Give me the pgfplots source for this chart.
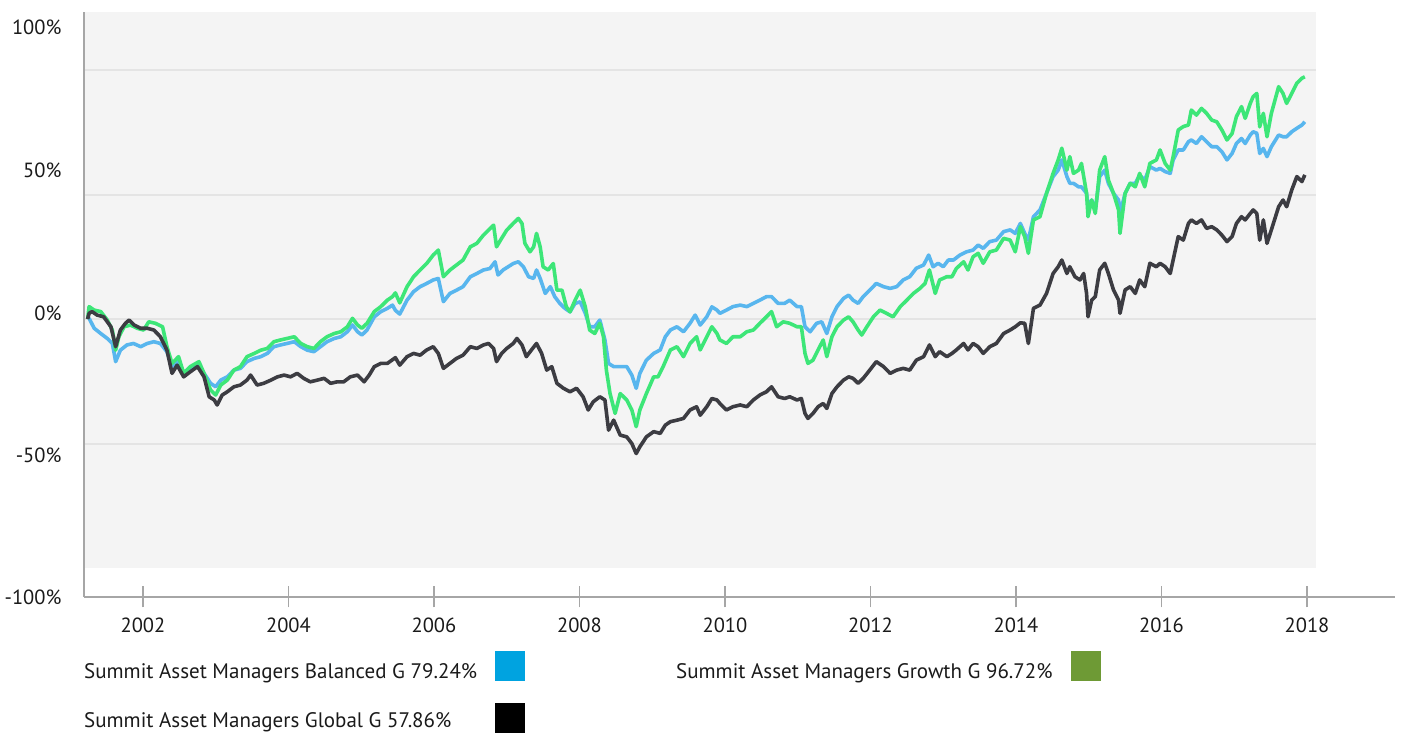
\documentclass[border=0pt]{standalone}
\usepackage{fontspec}
\setmainfont{PT Sans}
\usepackage{pgfplots}
\usepackage{pgfplotstable}
\pgfplotsset{compat=1.18}
\definecolor{bggray}{HTML}{F4F4F4}
\definecolor{gridgray}{HTML}{E4E4E4}
\definecolor{axgray}{HTML}{A6A6A6}
\definecolor{txt}{HTML}{1A1A1A}
\definecolor{balline}{HTML}{58B6EE}
\definecolor{groline}{HTML}{3DE678}
\definecolor{gloline}{HTML}{3C3C42}
\definecolor{legblue}{HTML}{00A3E0}
\definecolor{leggreen}{HTML}{6E9A35}

\pgfplotstableread{
t v
2001.24 0.0
2001.26 0.3
2001.33 -3.7
2001.42 -5.8
2001.51 -7.8
2001.58 -9.8
2001.625 -17.1
2001.69 -12.5
2001.78 -10.4
2001.87 -9.8
2001.97 -11.1
2002.06 -9.8
2002.15 -9.1
2002.24 -9.8
2002.33 -13.1
2002.40 -19.1
2002.49 -16.5
2002.56 -21.8
2002.65 -19.8
2002.77 -18.5
2002.84 -21.8
2002.93 -25.8
2003.00 -27.2
2003.07 -24.5
2003.16 -23.2
2003.25 -20.5
2003.34 -19.8
2003.43 -17.1
2003.53 -15.8
2003.62 -15.1
2003.71 -13.8
2003.80 -11.1
2003.89 -10.4
2003.98 -9.8
2004.08 -9.1
2004.17 -11.1
2004.26 -12.5
2004.35 -13.1
2004.44 -11.1
2004.53 -9.1
2004.63 -7.8
2004.72 -7.1
2004.81 -5.1
2004.88 -2.4
2004.95 -5.1
2005.01 -6.4
2005.08 -4.4
2005.18 0.9
2005.27 3.0
2005.36 4.3
2005.43 5.6
2005.47 3.5
2005.53 2.0
2005.63 7.6
2005.72 11.0
2005.81 13.0
2005.90 14.3
2005.99 15.7
2006.06 16.3
2006.13 7.0
2006.22 10.3
2006.31 11.6
2006.40 13.0
2006.50 17.0
2006.59 18.3
2006.68 19.7
2006.77 20.3
2006.84 23.0
2006.88 17.7
2006.95 19.7
2007.02 21.0
2007.09 22.3
2007.16 23.0
2007.23 21.0
2007.30 17.0
2007.37 16.3
2007.41 19.7
2007.46 16.3
2007.53 10.3
2007.60 13.0
2007.66 9.0
2007.73 6.3
2007.80 4.3
2007.87 2.9
2007.94 6.3
2008.01 6.9
2008.08 2.3
2008.14 -3.1
2008.21 -3.1
2008.28 -0.4
2008.35 -8.4
2008.40 -17.8
2008.47 -19.1
2008.56 -19.1
2008.65 -19.1
2008.72 -22.5
2008.78 -27.8
2008.83 -21.8
2008.92 -16.5
2009.02 -13.8
2009.11 -12.4
2009.18 -7.1
2009.25 -4.4
2009.34 -3.1
2009.43 -5.1
2009.52 -1.7
2009.59 1.6
2009.66 -2.4
2009.75 0.9
2009.82 4.9
2009.89 3.6
2009.93 2.3
2010.02 3.6
2010.11 5.0
2010.21 5.6
2010.30 5.0
2010.39 6.3
2010.48 7.6
2010.57 9.0
2010.64 9.0
2010.73 6.3
2010.82 6.3
2010.89 7.6
2010.99 5.0
2011.05 5.0
2011.10 -3.1
2011.17 -5.1
2011.26 -1.7
2011.33 -1.1
2011.40 -5.8
2011.47 0.9
2011.54 5.0
2011.63 8.3
2011.70 9.6
2011.76 7.6
2011.83 6.3
2011.90 9.0
2011.99 11.6
2012.08 14.3
2012.18 13.0
2012.27 12.3
2012.36 13.0
2012.45 15.7
2012.54 17.0
2012.63 20.4
2012.73 21.7
2012.80 25.7
2012.86 21.0
2012.93 22.4
2013.00 21.0
2013.07 23.7
2013.14 23.7
2013.23 25.7
2013.32 27.0
2013.41 27.7
2013.48 29.7
2013.55 28.4
2013.64 31.1
2013.73 31.7
2013.83 35.1
2013.92 35.8
2013.99 34.4
2014.06 38.4
2014.12 34.4
2014.17 31.7
2014.24 41.1
2014.33 43.8
2014.42 50.5
2014.51 57.2
2014.58 59.8
2014.63 63.9
2014.70 57.2
2014.74 54.5
2014.79 54.5
2014.86 53.1
2014.90 53.1
2014.97 50.5
2014.99 45.1
2015.04 47.8
2015.09 43.8
2015.15 57.2
2015.22 59.8
2015.27 54.5
2015.34 50.5
2015.41 47.8
2015.43 42.4
2015.50 50.5
2015.57 54.5
2015.64 54.5
2015.70 57.8
2015.77 55.8
2015.84 61.2
2015.93 59.8
2015.98 60.5
2016.05 59.2
2016.12 58.5
2016.16 63.9
2016.23 67.9
2016.30 67.9
2016.37 71.2
2016.41 71.9
2016.48 70.5
2016.55 73.2
2016.62 71.2
2016.69 69.2
2016.76 69.2
2016.83 67.2
2016.90 63.9
2016.97 66.5
2017.03 70.5
2017.10 72.5
2017.15 70.5
2017.22 73.9
2017.26 75.2
2017.31 74.6
2017.35 66.5
2017.40 68.5
2017.45 65.2
2017.51 69.2
2017.61 73.9
2017.67 73.2
2017.72 73.2
2017.79 75.2
2017.86 76.6
2017.93 77.9
2017.97 79.2
}\balanced

\pgfplotstableread{
t v
2001.24 0.0
2001.26 5.0
2001.33 3.6
2001.42 3.0
2001.51 -0.4
2001.58 -4.4
2001.625 -12.5
2001.67 -7.1
2001.74 -3.1
2001.83 -2.4
2001.92 -3.7
2002.01 -4.4
2002.08 -1.1
2002.17 -1.7
2002.27 -3.1
2002.33 -11.1
2002.40 -17.8
2002.49 -15.1
2002.56 -21.8
2002.65 -19.1
2002.77 -17.1
2002.84 -21.8
2002.93 -28.5
2003.00 -30.5
2003.07 -26.5
2003.16 -24.5
2003.25 -20.5
2003.34 -19.1
2003.43 -15.1
2003.53 -13.8
2003.62 -12.5
2003.71 -11.8
2003.80 -9.1
2003.89 -8.4
2003.98 -7.8
2004.08 -7.1
2004.17 -9.8
2004.26 -11.1
2004.35 -11.8
2004.44 -9.1
2004.53 -7.1
2004.63 -5.8
2004.72 -5.1
2004.81 -3.1
2004.88 0.3
2004.95 -2.4
2005.01 -3.7
2005.08 -1.7
2005.18 3.0
2005.27 5.0
2005.36 7.6
2005.43 9.0
2005.47 10.5
2005.53 6.5
2005.63 13.0
2005.72 17.0
2005.81 19.7
2005.90 22.3
2005.99 25.7
2006.06 27.7
2006.13 17.0
2006.22 19.7
2006.31 21.7
2006.40 23.7
2006.50 29.0
2006.59 30.4
2006.68 33.7
2006.75 35.7
2006.82 37.7
2006.86 29.0
2006.93 32.4
2007.00 35.7
2007.09 38.4
2007.16 40.4
2007.21 38.4
2007.25 30.4
2007.32 27.0
2007.37 29.0
2007.41 34.4
2007.46 29.0
2007.50 21.0
2007.57 19.7
2007.64 22.3
2007.69 11.6
2007.76 11.6
2007.82 4.9
2007.87 2.9
2007.94 7.6
2008.01 11.6
2008.08 4.9
2008.14 -4.4
2008.21 -5.8
2008.28 -1.7
2008.33 -7.1
2008.37 -20.5
2008.42 -29.9
2008.49 -37.9
2008.56 -29.9
2008.65 -32.5
2008.72 -36.5
2008.78 -43.2
2008.83 -36.5
2008.92 -29.9
2009.02 -23.2
2009.08 -23.2
2009.15 -19.1
2009.25 -12.4
2009.34 -11.1
2009.43 -15.1
2009.52 -9.8
2009.61 -7.1
2009.66 -12.4
2009.75 -7.1
2009.82 -3.1
2009.89 -5.8
2009.93 -8.4
2010.02 -9.8
2010.11 -7.1
2010.21 -7.1
2010.30 -5.1
2010.39 -4.4
2010.48 -1.7
2010.57 0.9
2010.64 3.0
2010.71 -3.1
2010.80 -1.1
2010.89 -1.7
2010.99 -3.1
2011.05 -3.1
2011.10 -13.8
2011.14 -17.8
2011.21 -16.5
2011.28 -12.4
2011.35 -8.4
2011.40 -15.1
2011.47 -7.1
2011.54 -3.1
2011.63 -0.4
2011.70 0.9
2011.76 -1.1
2011.83 -4.4
2011.88 -6.4
2011.95 -3.1
2012.04 0.9
2012.13 3.6
2012.22 2.3
2012.31 0.9
2012.41 5.0
2012.50 7.6
2012.59 10.3
2012.68 12.3
2012.75 14.3
2012.81 19.7
2012.89 10.3
2012.95 15.7
2013.05 17.0
2013.12 17.0
2013.18 20.3
2013.28 23.0
2013.34 19.7
2013.41 25.0
2013.48 26.4
2013.55 22.4
2013.64 27.0
2013.73 27.7
2013.83 32.4
2013.92 31.7
2013.99 27.0
2014.06 37.1
2014.12 33.1
2014.17 26.4
2014.24 39.8
2014.33 41.1
2014.42 50.5
2014.51 58.5
2014.58 63.9
2014.63 68.6
2014.70 59.8
2014.74 65.2
2014.79 58.5
2014.86 59.8
2014.90 62.5
2014.97 50.5
2014.99 41.1
2015.04 47.8
2015.09 42.4
2015.15 59.8
2015.22 65.2
2015.27 55.8
2015.34 50.5
2015.41 43.8
2015.43 34.4
2015.50 50.5
2015.57 54.5
2015.64 53.1
2015.70 58.5
2015.77 53.1
2015.84 62.5
2015.93 63.9
2015.98 67.9
2016.05 62.5
2016.12 59.8
2016.16 65.2
2016.23 75.9
2016.30 77.3
2016.37 77.9
2016.41 83.9
2016.48 81.9
2016.55 84.6
2016.62 82.6
2016.69 79.9
2016.76 79.2
2016.83 75.9
2016.90 71.9
2016.97 74.5
2017.03 81.3
2017.10 85.3
2017.15 80.6
2017.22 86.6
2017.26 89.3
2017.31 90.6
2017.35 77.2
2017.40 82.6
2017.45 73.2
2017.51 82.6
2017.61 93.3
2017.67 90.6
2017.72 86.6
2017.79 90.6
2017.86 94.7
2017.93 96.7
2017.97 97.3
}\growth

\pgfplotstableread{
t v
2001.24 0.0
2001.26 2.3
2001.30 3.0
2001.37 1.6
2001.46 0.9
2001.56 -3.1
2001.625 -11.1
2001.69 -4.4
2001.76 -1.7
2001.81 -0.4
2001.88 -2.4
2001.97 -3.7
2002.06 -3.7
2002.15 -4.4
2002.24 -7.1
2002.33 -12.5
2002.40 -21.8
2002.47 -18.5
2002.56 -23.2
2002.65 -21.2
2002.75 -19.1
2002.84 -23.2
2002.91 -31.2
2002.98 -32.5
2003.02 -34.5
2003.09 -30.5
2003.16 -29.2
2003.25 -27.2
2003.34 -26.5
2003.43 -24.5
2003.48 -22.5
2003.57 -26.5
2003.66 -25.8
2003.76 -24.5
2003.85 -23.2
2003.94 -22.5
2004.03 -23.2
2004.12 -21.8
2004.21 -23.8
2004.30 -25.2
2004.40 -24.5
2004.49 -23.8
2004.58 -25.8
2004.67 -25.2
2004.76 -25.2
2004.85 -23.2
2004.95 -22.5
2005.04 -25.2
2005.11 -22.5
2005.18 -19.1
2005.27 -17.8
2005.36 -17.8
2005.47 -15.5
2005.53 -18.5
2005.63 -15.1
2005.72 -13.8
2005.81 -14.5
2005.90 -12.4
2005.99 -11.1
2006.06 -13.8
2006.13 -19.8
2006.22 -17.8
2006.31 -15.8
2006.40 -14.5
2006.50 -11.1
2006.59 -11.8
2006.68 -10.4
2006.75 -9.8
2006.82 -11.8
2006.86 -17.1
2006.93 -13.8
2007.00 -11.8
2007.09 -9.8
2007.14 -7.8
2007.21 -10.4
2007.27 -15.1
2007.34 -12.4
2007.41 -9.8
2007.48 -13.8
2007.55 -20.5
2007.62 -19.1
2007.69 -25.8
2007.78 -27.8
2007.87 -29.2
2007.96 -27.8
2008.05 -31.2
2008.12 -36.5
2008.19 -33.2
2008.28 -31.2
2008.35 -32.5
2008.40 -44.6
2008.47 -40.6
2008.56 -46.6
2008.65 -47.3
2008.72 -50.0
2008.78 -54.0
2008.83 -51.3
2008.92 -47.3
2009.02 -45.2
2009.11 -45.9
2009.18 -42.6
2009.25 -41.2
2009.34 -40.6
2009.43 -39.9
2009.52 -36.5
2009.61 -35.2
2009.66 -38.6
2009.75 -35.2
2009.82 -31.9
2009.89 -32.5
2009.93 -33.9
2010.02 -36.5
2010.11 -35.2
2010.21 -34.5
2010.30 -35.2
2010.39 -32.5
2010.48 -30.5
2010.57 -29.2
2010.64 -27.2
2010.73 -31.2
2010.82 -31.9
2010.89 -31.2
2010.99 -32.5
2011.05 -31.9
2011.10 -37.9
2011.14 -39.9
2011.21 -37.9
2011.28 -35.2
2011.35 -33.9
2011.40 -35.9
2011.47 -29.9
2011.54 -27.2
2011.63 -24.5
2011.70 -23.2
2011.76 -23.8
2011.83 -25.8
2011.90 -23.8
2011.99 -20.5
2012.08 -17.1
2012.18 -19.1
2012.27 -21.8
2012.36 -20.5
2012.45 -19.8
2012.54 -20.5
2012.63 -16.5
2012.73 -15.1
2012.81 -10.4
2012.89 -15.1
2012.95 -13.1
2013.05 -15.1
2013.12 -13.8
2013.18 -12.4
2013.28 -9.8
2013.34 -12.4
2013.41 -9.8
2013.48 -11.1
2013.55 -13.8
2013.64 -11.1
2013.73 -9.8
2013.83 -5.8
2013.92 -4.4
2013.99 -3.1
2014.06 -1.5
2014.12 -1.7
2014.17 -9.8
2014.24 4.3
2014.33 5.6
2014.42 10.3
2014.51 18.3
2014.58 21.0
2014.63 23.7
2014.70 18.3
2014.74 21.0
2014.81 17.0
2014.88 15.7
2014.93 18.3
2014.97 10.3
2014.99 0.9
2015.04 7.6
2015.09 9.0
2015.15 19.7
2015.22 22.4
2015.27 18.3
2015.34 11.7
2015.41 7.6
2015.43 2.3
2015.50 11.7
2015.57 13.0
2015.64 10.3
2015.70 15.7
2015.77 13.0
2015.84 22.4
2015.93 21.0
2015.98 22.4
2016.05 21.0
2016.12 18.3
2016.16 23.7
2016.23 33.1
2016.30 31.7
2016.37 38.4
2016.41 39.8
2016.48 38.4
2016.55 39.8
2016.62 36.4
2016.69 37.1
2016.76 35.8
2016.83 33.7
2016.90 31.1
2016.97 33.1
2017.03 38.4
2017.10 41.1
2017.15 39.8
2017.22 42.4
2017.26 43.8
2017.31 42.4
2017.35 31.7
2017.40 39.8
2017.45 30.4
2017.51 35.8
2017.61 45.1
2017.67 47.8
2017.72 45.1
2017.79 51.8
2017.86 57.2
2017.93 55.2
2017.97 57.9
}\globalg

\begin{document}
\begin{tikzpicture}[x=1bp,y=1bp]
\useasboundingbox (0,0) rectangle (1403,733);
\begin{axis}[
  at={(84bp,136bp)}, anchor=south west,
  scale only axis, width=1311bp, height=585bp,
  xmin=2001.19, xmax=2019.21, ymin=-111.6, ymax=123.3,
  axis x line*=bottom, axis y line*=left,
  axis line style={draw=axgray, line width=1.3bp, -},
  axis on top,
  tick align=center,
  major tick length=21bp,
  xtick={2002,2004,2006,2008,2010,2012,2014,2016,2018},
  xticklabels={2002,2004,2006,2008,2010,2012,2014,2016,2018},
  ytick={117.3,59.9,2.5,-54.9,-111.6},
  yticklabels={100\%,50\%,0\%,-50\%,-100\%},
  x tick style={draw=axgray, line width=1.3bp},
  y tick style={draw=none},
  ticklabel style={font=\fontsize{20.5bp}{24bp}\selectfont, text=txt, inner sep=0pt},
  xticklabel style={anchor=north, yshift=-10bp},
  yticklabel style={anchor=east, xshift=-12bp},
  clip=true,
]
\fill[bggray] (axis cs:2001.19,-100) rectangle (axis cs:2018.12,123.3);
\draw[gridgray, line width=2bp] (axis cs:2001.19,-50) -- (axis cs:2018.12,-50);
\draw[gridgray, line width=2bp] (axis cs:2001.19,0) -- (axis cs:2018.12,0);
\draw[gridgray, line width=2bp] (axis cs:2001.19,50) -- (axis cs:2018.12,50);
\draw[gridgray, line width=2bp] (axis cs:2001.19,100) -- (axis cs:2018.12,100);
\addplot[balline, line width=3.6bp, line join=round, no markers] table[x=t,y=v] {\balanced};
\addplot[groline, line width=3.6bp, line join=round, no markers] table[x=t,y=v] {\growth};
\addplot[gloline, line width=3.6bp, line join=round, no markers] table[x=t,y=v] {\globalg};
\end{axis}
\begin{scope}[every node/.style={anchor=base west, inner sep=0pt, text=txt, font=\fontsize{21bp}{25bp}\selectfont}]
\node at (84,54) {Summit Asset Managers Balanced G 79.24\%};
\fill[legblue] (495,52) rectangle (525,82);
\node at (676,54) {Summit Asset Managers Growth G 96.72\%};
\fill[leggreen] (1071,52) rectangle (1101,82);
\node at (84,6) {Summit Asset Managers Global G 57.86\%};
\fill[black] (495,0) rectangle (525,30);
\end{scope}
\end{tikzpicture}
\end{document}
